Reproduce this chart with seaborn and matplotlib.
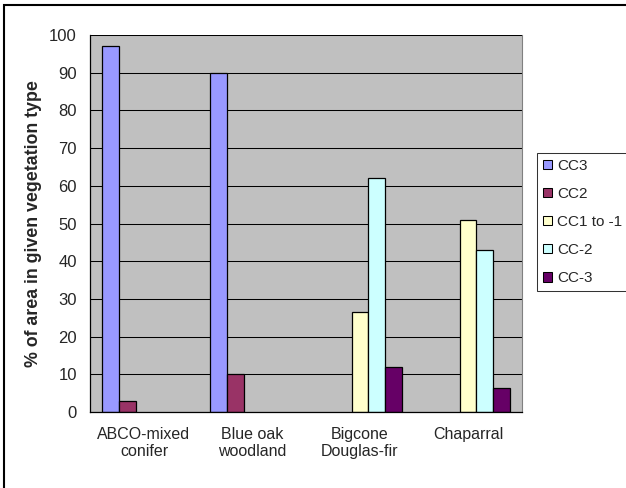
import numpy as np
import pandas as pd
import matplotlib
matplotlib.use("Agg")
import matplotlib.pyplot as plt
from matplotlib.patches import Patch, Rectangle
import seaborn as sns

# data
categories = ["ABCO-mixed\nconifer", "Blue oak\nwoodland", "Bigcone\nDouglas-fir", "Chaparral"]
classes = ["CC3", "CC2", "CC1 to -1", "CC-2", "CC-3"]
cc3 = [97, 90, np.nan, np.nan]
cc2 = [3, 10, np.nan, np.nan]
cc1_to_m1 = [np.nan, np.nan, 26.5, 51]
cc_m2 = [np.nan, np.nan, 62, 43]
cc_m3 = [np.nan, np.nan, 12, 6.3]
colors = ["#9999FF", "#993366", "#FFFFCC", "#CCFFFF", "#660066"]

series = [cc3, cc2, cc1_to_m1, cc_m2, cc_m3]
rows = []
for cls, vals in zip(classes, series):
    for cat, v in zip(categories, vals):
        rows.append({"type": cat, "class": cls, "pct": v})
df = pd.DataFrame(rows).dropna()
palette = dict(zip(classes, colors))

sns.set_style("white")
plt.rcParams["font.family"] = ["Liberation Sans", "DejaVu Sans"]

fig = plt.figure(figsize=(6.26, 4.88), dpi=100)
ax = fig.add_axes([90 / 626, 1 - 412 / 488, 432 / 626, 377 / 488])
ax.set_facecolor("#C0C0C0")
ax.set_axisbelow(True)
ax.yaxis.grid(True, color="black", linewidth=0.75)

sns.barplot(data=df, x="type", y="pct", hue="class", order=categories,
            hue_order=classes, palette=palette, width=5 / 6.5, errorbar=None,
            edgecolor="black", linewidth=0.9, saturation=1, ax=ax, legend=False)

ax.set_xlim(-0.5, len(categories) - 0.5)
ax.set_ylim(0, 100)
ax.set_yticks(range(0, 101, 10))
ax.set_xlabel("")
ax.set_ylabel("% of area in given vegetation type", fontsize=12.8, fontweight="bold", labelpad=5)

# labels at category centres, tick marks at the boundaries
ax.set_xticks(range(len(categories)))
ax.set_xticklabels(categories, fontsize=11.5)
ax.set_xticks(np.arange(-0.5, len(categories), 1), minor=True)
ax.tick_params(axis="x", which="major", length=0, pad=10.5)
ax.tick_params(axis="x", which="minor", length=4.5, width=0.75, color="black", direction="out")
ax.tick_params(axis="y", length=4, width=0.75, color="black", direction="out", pad=5.5, labelsize=12)

for side in ["left", "bottom"]:
    ax.spines[side].set_color("black")
    ax.spines[side].set_linewidth(0.9)
ax.spines["right"].set_color("#808080")
ax.spines["top"].set_visible(False)

handles = [Patch(facecolor=c, edgecolor="black", linewidth=0.75) for c in colors]
leg = ax.legend(handles, classes, loc="upper left",
                bbox_to_anchor=(537 / 626, 1 - 153 / 488), bbox_transform=fig.transFigure,
                borderaxespad=0, frameon=True, fancybox=False, fontsize=11,
                handlelength=0.55, handleheight=0.55, handletextpad=0.35,
                labelspacing=0.92, borderpad=0.4)
leg.get_frame().set_edgecolor("black")
leg.get_frame().set_linewidth(0.75)

# outer chart border (clipped on the right and bottom in the original)
fig.add_artist(Rectangle((3.5 / 626, -0.1), 1.2, 1.1 - 5.5 / 488, fill=False,
                         edgecolor="black", linewidth=1.5, transform=fig.transFigure))

fig.savefig("out.png", dpi=100)
